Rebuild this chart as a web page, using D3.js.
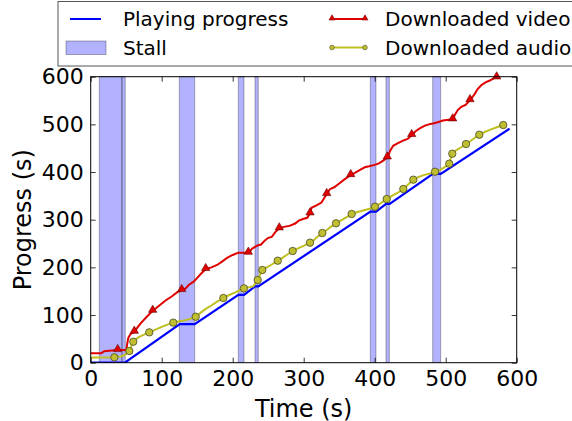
<!DOCTYPE html>
<html>
<head>
<meta charset="utf-8">
<script src="https://cdn.jsdelivr.net/npm/d3@7"></script>
<style>
  html, body { margin: 0; padding: 0; background: #fff; }
  svg { display: block; font-family: "DejaVu Sans", sans-serif; }
</style>
</head>
<body>
<svg id="chart" width="572" height="421"></svg>
<script>
// Axis ticks
const xTicks = [0, 100, 200, 300, 400, 500, 600];
const yTicks = [0, 100, 200, 300, 400, 500, 600];

// Stall intervals (seconds)
const stallStart = [12.1, 44.0, 124.8, 207.9, 231.4, 393.8, 415.9, 481.7];
const stallEnd   = [44.0, 48.7, 146.5, 215.9, 236.0, 401.8, 420.6, 492.9];

// Playing progress
const playT = [0, 48, 125.5, 146.5, 208, 216, 231.5, 236, 394, 402, 416, 421, 482, 493, 590];
const playV = [0, 0, 81, 81, 142.5, 142.5, 160, 160, 317, 317, 333, 333, 396, 396, 491];

// Downloaded video
const videoT = [0, 15, 19, 30, 38, 46, 50, 51.5, 53, 56, 61.4, 70, 80, 87.3, 95, 105, 115, 122, 128.2,
  133, 138, 145, 150, 155, 162, 170, 178, 185, 192, 200, 208, 222, 228, 235, 240, 245, 250, 255, 260, 265.6,
  272, 280, 288, 293, 300, 305, 308.9, 311, 318, 325, 332.4, 337, 343, 350, 357, 366.2, 372, 380, 386, 392,
  400, 406, 412, 417.7, 422, 426, 432, 440, 447, 452.1, 458, 464, 470, 476, 482, 490, 496, 509.8, 513, 517,
  522, 528, 534.2, 540, 545, 550, 556, 562, 567, 571.8, 574];
const videoV = [20, 20, 24, 25.5, 26.6, 26.6, 26, 40, 52, 60, 65, 82, 98, 109, 118, 130, 140, 148, 152.5,
  155, 163, 170, 178, 186, 196.6, 200, 205, 212, 220, 226, 230.8, 230.8, 240, 246, 248, 256, 262, 264, 274, 282,
  285, 287, 292, 298, 302, 304, 313.4, 325, 330, 336, 353.9, 364, 368, 376, 384, 393.7, 398, 405, 410, 412,
  415, 418, 424, 430.8, 445, 455, 460, 466, 470, 477.7, 486, 492, 497, 500, 502, 505, 508, 510.6, 520, 530,
  537, 541, 551, 562, 574, 582, 588, 592, 596, 598.7, 600];
const videoMarkT = [38, 61.4, 87.3, 128.2, 162, 222, 265.6, 308.9, 332.4, 366.2, 417.7, 452.1, 509.8, 534.2, 571.8];

// Downloaded audio
const audioT = [0, 20, 33.3, 42, 48, 54.4, 60, 66, 72, 82.5, 92, 100, 108, 116.3, 125, 133, 140, 147.9, 155,
  162, 170, 178, 186.8, 195, 203, 210, 215.9, 222, 229, 235.2, 241.7, 248, 255, 263.4, 270, 277, 284.5, 292,
  300, 308.9, 315, 320, 326.2, 333, 339, 345.5, 352, 360, 367.6, 376, 385, 393, 400.4, 408, 416.9, 424, 432,
  440.3, 447, 454.4, 462, 470, 478, 485, 492, 500, 505, 507, 509.3, 515, 522, 528.6, 535, 541, 547.3, 555,
  563, 572, 581.1];
const audioV = [11, 11, 11.3, 13, 16, 24.5, 44, 52, 57, 63.7, 70, 75, 80, 84, 87, 89, 92, 96.5, 105,
  113, 120, 128, 135.7, 142, 147, 152, 156, 158, 160, 173.5, 194.5, 200, 206, 214, 220, 227, 234.3, 240,
  245, 251.8, 258, 265, 272, 279, 286, 292.4, 298, 305, 312, 316, 320, 323, 327.3, 334, 343.4, 350, 356,
  364.4, 374, 384, 390, 394, 397, 400.7, 404, 412, 417.5, 428, 438.5, 446, 452, 458.8, 465, 472, 478.3, 484,
  489, 494, 498.6];
const audioMarkT = [33.3, 54.4, 60, 82.5, 116.3, 147.9, 186.8, 215.9, 235.2, 241.7, 263.4, 284.5, 308.9,
  326.2, 345.5, 367.6, 400.4, 416.9, 440.3, 454.4, 485, 505, 509.3, 528.6, 547.3, 581.1];

const svg = d3.select("#chart");
const x = d3.scaleLinear().domain([0, 600]).range([90.7, 516.7]);
const y = d3.scaleLinear().domain([0, 600]).range([362.7, 76.7]);

const playData = playT.map((t, i) => [t, playV[i]]);
const videoData = videoT.map((t, i) => [t, videoV[i]]);
const audioData = audioT.map((t, i) => [t, audioV[i]]);
const videoMarks = videoMarkT.map(t => videoData.find(d => d[0] === t));
const audioMarks = audioMarkT.map(t => audioData.find(d => d[0] === t));

const line = d3.line().x(d => x(d[0])).y(d => y(d[1]));

svg.append("defs").append("clipPath").attr("id", "plotClip")
  .append("rect").attr("x", x(0)).attr("y", y(600) - 8)
  .attr("width", x(600) - x(0)).attr("height", y(0) - y(600) + 8);

const plot = svg.append("g").attr("clip-path", "url(#plotClip)");

// Stall bands
plot.selectAll("rect.stall").data(stallStart.map((s, i) => [s, stallEnd[i]]))
  .join("rect").attr("class", "stall")
  .attr("x", d => x(d[0])).attr("width", d => x(d[1]) - x(d[0]))
  .attr("y", y(600)).attr("height", y(0) - y(600))
  .attr("fill", "rgba(0,0,255,0.3)")
  .attr("stroke", "rgba(0,0,0,0.3)").attr("stroke-width", 1);

// Series lines
plot.append("path").datum(playData).attr("d", line)
  .attr("fill", "none").attr("stroke", "#0000ff").attr("stroke-width", 2.2);
plot.append("path").datum(audioData).attr("d", line)
  .attr("fill", "none").attr("stroke", "#bfbf20").attr("stroke-width", 2);
plot.append("path").datum(videoData).attr("d", line)
  .attr("fill", "none").attr("stroke", "#e00000").attr("stroke-width", 2);

const tri = d3.symbol().type(d3.symbolTriangle).size(30);
plot.selectAll("path.vmark").data(videoMarks).join("path").attr("class", "vmark")
  .attr("d", tri)
  .attr("transform", d => `translate(${x(d[0])},${y(d[1]) - 0.8})`)
  .attr("fill", "#e00000").attr("stroke", "#600").attr("stroke-width", 0.6);

plot.selectAll("circle.amark").data(audioMarks).join("circle").attr("class", "amark")
  .attr("cx", d => x(d[0])).attr("cy", d => y(d[1])).attr("r", 3.7)
  .attr("fill", "#bfbf30").attr("stroke", "#4a4a2a").attr("stroke-width", 0.8);

// Axes (ticks point inward on all four sides)
const fmt = d3.format("d");
const gx = svg.append("g").attr("transform", `translate(0,${y(0)})`)
  .call(d3.axisBottom(x).tickValues(xTicks).tickFormat(fmt).tickSizeInner(-5).tickSizeOuter(0).tickPadding(8));
const gy = svg.append("g").attr("transform", `translate(${x(0)},0)`)
  .call(d3.axisLeft(y).tickValues(yTicks).tickFormat(fmt).tickSizeInner(-5).tickSizeOuter(0).tickPadding(7));
const gt = svg.append("g").attr("transform", `translate(0,${y(600)})`)
  .call(d3.axisTop(x).tickValues(xTicks).tickFormat("").tickSizeInner(-5).tickSizeOuter(0));
const gr = svg.append("g").attr("transform", `translate(${x(600)},0)`)
  .call(d3.axisRight(y).tickValues(yTicks).tickFormat("").tickSizeInner(-5).tickSizeOuter(0));
[gx, gy, gt, gr].forEach(g => {
  g.select(".domain").remove();
  g.selectAll(".tick line").attr("stroke", "#000").attr("stroke-width", 0.8);
  g.selectAll(".tick text").attr("fill", "#000").style("font-size", "22px")
    .style("font-family", "'DejaVu Sans', sans-serif");
});

svg.append("rect").attr("x", x(0)).attr("y", y(600))
  .attr("width", x(600) - x(0)).attr("height", y(0) - y(600))
  .attr("fill", "none").attr("stroke", "#000").attr("stroke-width", 1);

// Axis titles
svg.append("text").attr("x", (x(0) + x(600)) / 2).attr("y", 416.5)
  .attr("text-anchor", "middle").style("font-size", "24px").text("Time (s)");
svg.append("text").attr("transform", `translate(31,${(y(0) + y(600)) / 2}) rotate(-90)`)
  .attr("text-anchor", "middle").style("font-size", "24px").text("Progress (s)");

// Legend
const lg = svg.append("g");
lg.append("rect").attr("x", 58).attr("y", 1.5).attr("width", 540).attr("height", 64.5)
  .attr("fill", "#fff").attr("stroke", "#555").attr("stroke-width", 1);

lg.append("line").attr("x1", 70).attr("x2", 101).attr("y1", 19).attr("y2", 19)
  .attr("stroke", "#0000ff").attr("stroke-width", 2);
lg.append("text").attr("x", 123).attr("y", 26).style("font-size", "20px").text("Playing progress");

lg.append("rect").attr("x", 66).attr("y", 41).attr("width", 40).attr("height", 13.5)
  .attr("fill", "rgba(0,0,255,0.3)").attr("stroke", "rgba(0,0,0,0.3)");
lg.append("text").attr("x", 123).attr("y", 54.5).style("font-size", "20px").text("Stall");

lg.append("line").attr("x1", 332).attr("x2", 365).attr("y1", 19).attr("y2", 19)
  .attr("stroke", "#e00000").attr("stroke-width", 2);
[332, 365].forEach(px => lg.append("path").attr("d", d3.symbol().type(d3.symbolTriangle).size(16))
  .attr("transform", `translate(${px},18.3)`).attr("fill", "#e00000").attr("stroke", "#600").attr("stroke-width", 0.5));
lg.append("text").attr("x", 385).attr("y", 26).style("font-size", "20px").text("Downloaded video");

lg.append("line").attr("x1", 332).attr("x2", 365).attr("y1", 47.5).attr("y2", 47.5)
  .attr("stroke", "#bfbf20").attr("stroke-width", 2);
[332, 365].forEach(px => lg.append("circle").attr("cx", px).attr("cy", 47.5).attr("r", 2.3)
  .attr("fill", "#bfbf30").attr("stroke", "#4a4a2a").attr("stroke-width", 0.6));
lg.append("text").attr("x", 385).attr("y", 54.5).style("font-size", "20px").text("Downloaded audio");
</script>
</body>
</html>
